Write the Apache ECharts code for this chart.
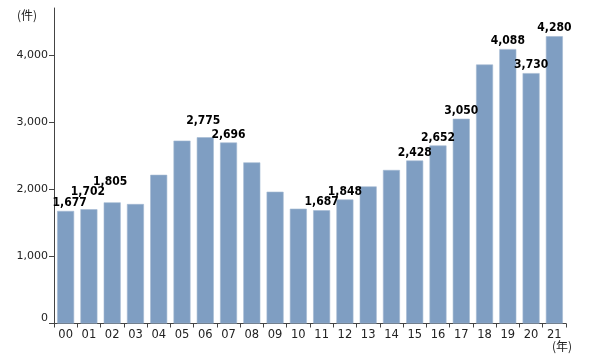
<!DOCTYPE html>
<html>
<head>
<meta charset="utf-8">
<script src="https://cdn.jsdelivr.net/npm/echarts@6/dist/echarts.min.js"></script>
<style>
  html, body { margin: 0; padding: 0; background: #fff; }
  #chart { width: 591px; height: 354px; }
</style>
</head>
<body>
<div id="chart"></div>
<script>
const years = ['00', '01', '02', '03', '04', '05', '06', '07', '08', '09', '10',
  '11', '12', '13', '14', '15', '16', '17', '18', '19', '20', '21']
const counts = [1677, 1702, 1805, 1780, 2215, 2724, 2775, 2696, 2400, 1963, 1710,
  1687, 1848, 2042, 2287, 2428, 2652, 3050, 3858, 4088, 3730, 4280]
// years that carry a value label
const labelled = ['00', '01', '02', '06', '07', '11', '12', '15', '16', '17', '19', '20', '21']
const yTicks = [0, 1000, 2000, 3000, 4000]

// a few labels are lifted so they don't collide with the neighbour
const labelOffset = {
  '00': [4, 0],
  '01': [-1, -9],
  '02': [-2, -12],
  '06': [-2, -8]
}

const font = '"DejaVu Sans", sans-serif'
const boldFont = '"DejaVu Sans Condensed", "DejaVu Sans", sans-serif'

const barData = counts.map((v, i) => {
  const y = years[i]
  const item = {value: v}
  if (labelled.includes(y)) {
    item.label = {show: true, offset: labelOffset[y] || [0, 0]}
  }
  return item
})

const chart = echarts.init(document.getElementById('chart'))

const option = {
  animation: false,
  grid: {left: 54, right: 25, top: 8, bottom: 30.5},
  xAxis: {
    type: 'category',
    data: years,
    axisLine: {lineStyle: {color: '#444', width: 1}},
    axisTick: {show: true, length: 4, alignWithLabel: false, lineStyle: {color: '#444'}},
    axisLabel: {color: '#222', fontSize: 11.5, fontFamily: font, margin: 6, interval: 0}
  },
  yAxis: {
    type: 'value',
    min: 0,
    max: 4700,
    interval: 1000,
    splitLine: {show: false},
    axisLine: {show: true, lineStyle: {color: '#444', width: 1}},
    axisTick: {show: true, length: 5, customValues: yTicks, lineStyle: {color: '#444'}},
    axisLabel: {
      color: '#222',
      fontSize: 11,
      fontFamily: font,
      margin: 6,
      customValues: yTicks,
      verticalAlignMinLabel: 'bottom',
      formatter: v => v.toLocaleString('en-US')
    }
  },
  series: [{
    type: 'bar',
    data: barData,
    barCategoryGap: '27%',
    itemStyle: {color: '#7f9ec2', borderColor: '#a3b8d2', borderWidth: 0.6},
    label: {
      show: false,
      position: 'top',
      distance: 2,
      color: '#000',
      fontSize: 12,
      fontWeight: 'bold',
      fontFamily: boldFont,
      formatter: p => p.value.toLocaleString('en-US')
    }
  }],
  graphic: [
    {type: 'text', left: 17, top: 9, style: {text: '(件)', fontSize: 12, fontFamily: '"Noto Sans CJK JP", sans-serif', fill: '#222'}},
    {type: 'text', left: 552, top: 340, style: {text: '(年)', fontSize: 12, fontFamily: '"Noto Sans CJK JP", sans-serif', fill: '#222'}}
  ]
}

option && chart.setOption(option)
</script>
</body>
</html>
